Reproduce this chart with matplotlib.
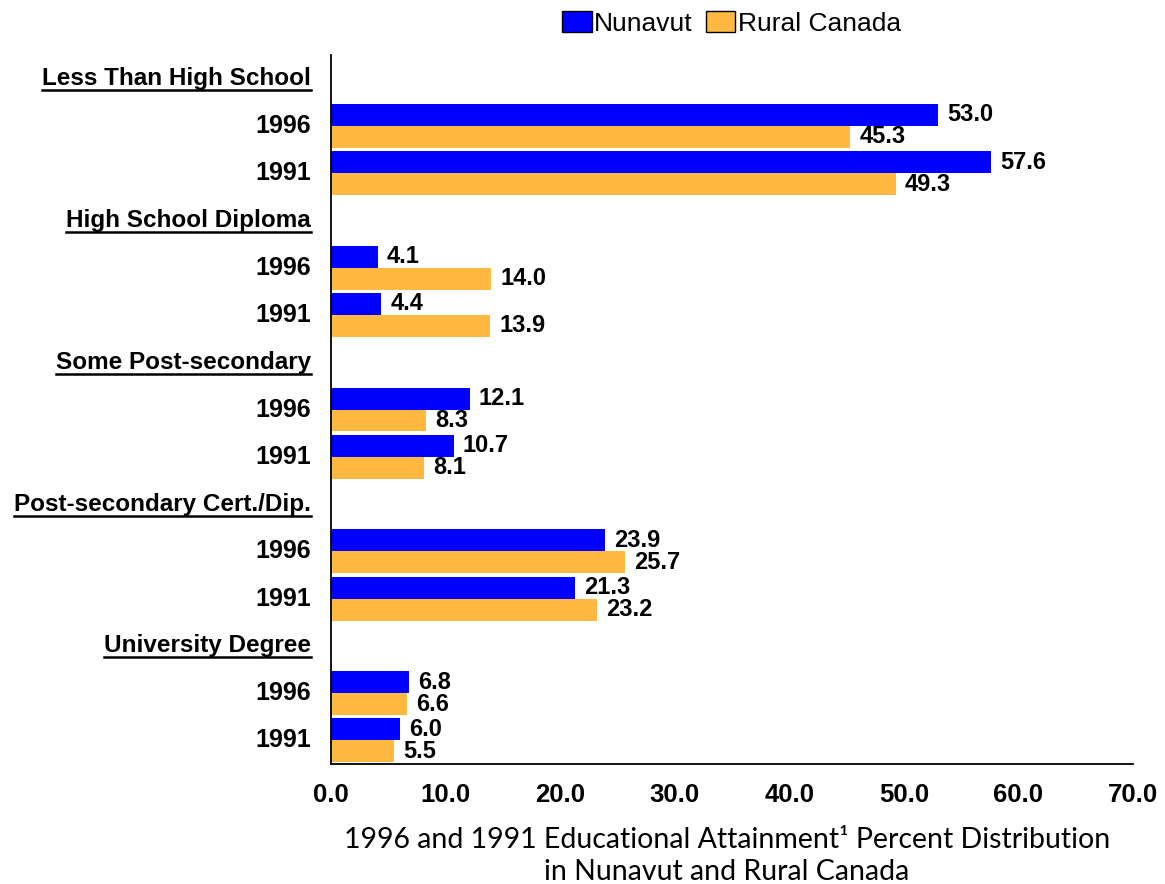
import matplotlib.pyplot as plt
from matplotlib.patches import Patch
import matplotlib.transforms as mtransforms

categories = ['Less Than High School', 'High School Diploma', 'Some Post-secondary',
              'Post-secondary Cert./Dip.', 'University Degree']
years = ['1996', '1991']
# values per category: [1996, 1991]
nunavut = [[53.0, 57.6], [4.1, 4.4], [12.1, 10.7], [23.9, 21.3], [6.8, 6.0]]
rural = [[45.3, 49.3], [14.0, 13.9], [8.3, 8.1], [25.7, 23.2], [6.6, 5.5]]
xticks = [0, 10, 20, 30, 40, 50, 60, 70]

BLUE = '#0000FF'
ORANGE = '#FFB940'


def main():
    plt.rcParams['font.family'] = ['Liberation Sans', 'DejaVu Sans']
    fig = plt.figure(figsize=(11.65, 8.84), dpi=100)
    ax = fig.add_axes([0.2841, 0.1357, 0.6884, 0.8021])

    bh = 0.465
    trans = mtransforms.blended_transform_factory(ax.transAxes, ax.transData)
    lab_x = -20 / 802
    headers = []
    for i, cat in enumerate(categories):
        hy = i * 3 + 0.5
        t = ax.text(lab_x, hy, cat, transform=trans, ha='right', va='center',
                    fontsize=17.5, fontweight='bold')
        headers.append(t)
        for j, yr in enumerate(years):
            c = i * 3 + 1 + j + 0.5
            ax.text(lab_x, c, yr, transform=trans, ha='right', va='center',
                    fontsize=18, fontweight='bold')
            nv = nunavut[i][j]
            rv = rural[i][j]
            ax.barh(c - bh / 2, nv, height=bh, color=BLUE)
            ax.barh(c + bh / 2, rv, height=bh, color=ORANGE)
            ax.text(nv + 0.8, c - bh / 2, '%.1f' % nv, ha='left', va='center',
                    fontsize=17, fontweight='bold')
            ax.text(rv + 0.8, c + bh / 2, '%.1f' % rv, ha='left', va='center',
                    fontsize=17, fontweight='bold')

    ax.set_ylim(15, 0)
    ax.set_xlim(0, 70)
    ax.set_xticks(xticks)
    ax.set_xticklabels(['%.1f' % v for v in xticks], fontsize=18.5, fontweight='bold')
    ax.tick_params(axis='x', length=0, pad=14)
    ax.set_yticks([])
    ax.spines['top'].set_visible(False)
    ax.spines['right'].set_visible(False)
    ax.spines['left'].set_linewidth(1.3)
    ax.spines['bottom'].set_linewidth(1.3)

    # underline the category headers
    fig.canvas.draw()
    renderer = fig.canvas.get_renderer()
    inv = fig.transFigure.inverted()
    for t in headers:
        bb = t.get_window_extent(renderer)
        (x0, y0), (x1, _) = inv.transform([[bb.x0, bb.y0], [bb.x1, bb.y0]])
        fig.add_artist(plt.Line2D([x0, x1], [y0, y0], transform=fig.transFigure,
                                  color='black', linewidth=1.8))

    handles = [Patch(facecolor=BLUE, edgecolor='black', label='Nunavut'),
               Patch(facecolor=ORANGE, edgecolor='black', label='Rural Canada')]
    fig.legend(handles=handles, loc='upper center', bbox_to_anchor=(0.628, 1.014),
               ncol=2, frameon=False, fontsize=19, handlelength=1.1,
               handleheight=0.8, handletextpad=0.1, columnspacing=0.5)

    fig.text(0.624, -0.0013, '1996 and 1991 Educational Attainment\u00b9 Percent Distribution\n'
             'in Nunavut and Rural Canada', ha='center', va='bottom', fontsize=20.5,
             family=['Lato', 'DejaVu Sans'], linespacing=1.3)

    fig.savefig('out.png', dpi=100)


if __name__ == '__main__':
    main()
